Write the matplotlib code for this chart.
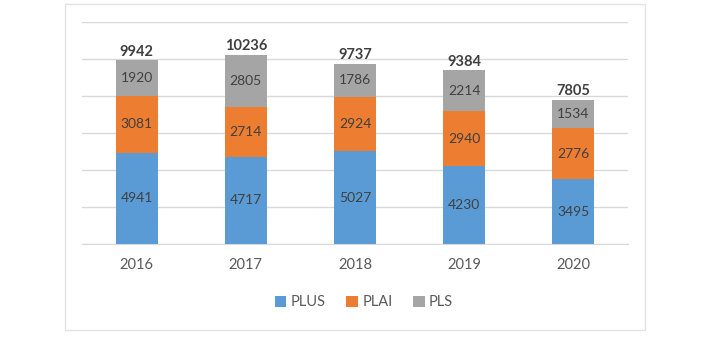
import numpy as np
import matplotlib.pyplot as plt
from matplotlib.patches import Rectangle

years = ['2016', '2017', '2018', '2019', '2020']
plus = [4941, 4717, 5027, 4230, 3495]
plai = [3081, 2714, 2924, 2940, 2776]
pls = [1920, 2805, 1786, 2214, 1534]
totals = [9942, 10236, 9737, 9384, 7805]

colors = {'PLUS': '#5B9BD5', 'PLAI': '#ED7D31', 'PLS': '#A5A5A5'}
plt.rcParams['font.family'] = ['Lato', 'DejaVu Sans']

fig = plt.figure(figsize=(7.22, 3.61), dpi=100)
# outer chart frame
fig.patches.append(Rectangle((0.09, 0.086), 0.803, 0.903, transform=fig.transFigure,
                             fill=False, edgecolor='#E3E3E3', linewidth=1))
ax = fig.add_axes([0.1136, 0.3241, 0.7562, 0.6149])

x = np.arange(len(years))
w = 0.385
bottom = np.zeros(len(years))
for name, vals in [('PLUS', plus), ('PLAI', plai), ('PLS', pls)]:
    vals = np.array(vals)
    ax.bar(x, vals, w, bottom=bottom, color=colors[name], label=name, zorder=3)
    for xi, b, v in zip(x, bottom, vals):
        ax.text(xi, b + v / 2, str(v), ha='center', va='center',
                fontsize=10, color='#404040', zorder=4)
    bottom += vals

for xi, t in zip(x, totals):
    ax.text(xi, t + 80, str(t), ha='center', va='bottom', fontsize=10.5,
            fontweight='bold', color='#404040')

ax.set_xlim(-0.5, len(years) - 0.5)
ax.set_ylim(0, 12000)
ax.set_yticks(np.arange(0, 12001, 2000))
ax.yaxis.grid(True, color='#D9D9D9', linewidth=1, zorder=0)
ax.set_yticklabels([])
ax.tick_params(axis='y', length=0)
ax.tick_params(axis='x', length=0, pad=10, labelsize=10.5, labelcolor='#595959')
ax.set_xticks(x)
ax.set_xticklabels(years)
for s in ['top', 'right', 'left']:
    ax.spines[s].set_visible(False)
ax.spines['bottom'].set_color('#D9D9D9')

fig.legend(loc='center', bbox_to_anchor=(0.504, 0.163), ncol=3, frameon=False,
           handlelength=0.8, handleheight=0.8, handletextpad=0.3, columnspacing=1.4,
           fontsize=10.5, labelcolor='#595959')

fig.savefig('out.png', dpi=100)
